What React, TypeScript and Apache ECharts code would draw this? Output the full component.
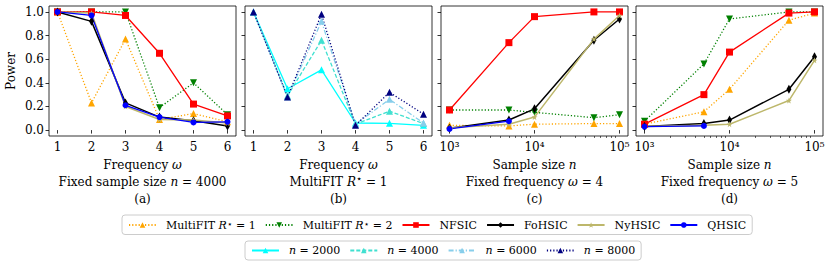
import React, { useEffect, useRef } from 'react';
import * as echarts from 'echarts';

const FONT = '"DejaVu Serif", "Liberation Serif", serif';
const STAR_FONT = '"DejaVu Sans", "Noto Sans", sans-serif';

// ---------- data ----------
const frequencies = [1, 2, 3, 4, 5, 6];
const sampleSizes = [1000, 5000, 10000, 50000, 100000];
const qhsicSampleSizes = [1000, 5000];

const powerTicks = [0, 0.2, 0.4, 0.6, 0.8, 1.0];
const frequencyTicks = [1, 2, 3, 4, 5, 6];
const logMajorTicks = [1000, 10000, 100000];
const logMinorTicks = [2000, 3000, 4000, 5000, 6000, 7000, 8000, 9000, 20000, 30000, 40000, 50000, 60000, 70000, 80000, 90000];

// (a) fixed sample size n = 4000
const multiFit1A = [1.0, 0.23, 0.77, 0.09, 0.14, 0.07];
const multiFit2A = [1.0, 1.0, 1.0, 0.19, 0.40, 0.13];
const nfsicA = [1.0, 1.0, 0.97, 0.65, 0.22, 0.12];
const fohsicA = [1.0, 0.92, 0.23, 0.11, 0.08, 0.035];
const nyhsicA = [1.0, 0.99, 0.20, 0.09, 0.085, 0.06];
const qhsicA = [1.0, 0.97, 0.21, 0.11, 0.065, 0.07];

// (b) MultiFIT R* = 1
const n2000B = [1.0, 0.35, 0.51, 0.06, 0.057, 0.04];
const n4000B = [1.0, 0.29, 0.76, 0.05, 0.16, 0.055];
const n6000B = [1.0, 0.28, 0.92, 0.05, 0.26, 0.06];
const n8000B = [1.0, 0.28, 0.98, 0.04, 0.32, 0.135];

// (c) fixed frequency omega = 4
const multiFit1C = [0.04, 0.035, 0.05, 0.055, 0.055];
const multiFit2C = [0.17, 0.17, 0.15, 0.105, 0.13];
const nfsicC = [0.17, 0.74, 0.96, 1.0, 1.0];
const fohsicC = [0.015, 0.085, 0.18, 0.76, 0.94];
const nyhsicC = [0.02, 0.05, 0.11, 0.77, 0.97];
const qhsicC = [0.01, 0.075];

// (d) fixed frequency omega = 5
const multiFit1D = [0.05, 0.155, 0.345, 0.93, 0.99];
const multiFit2D = [0.075, 0.56, 0.94, 1.0, 1.0];
const nfsicD = [0.05, 0.30, 0.66, 0.99, 1.0];
const fohsicD = [0.03, 0.055, 0.085, 0.345, 0.62];
const nyhsicD = [0.03, 0.04, 0.05, 0.25, 0.59];
const qhsicD = [0.03, 0.035];

// ---------- styles ----------
const STAR = 'path://M0,-10 L2.35,-3.24 L9.51,-3.09 L3.8,1.24 L5.88,8.09 L0,4 L-5.88,8.09 L-3.8,1.24 L-9.51,-3.09 L-2.35,-3.24 Z';

type Style = { color: string; type: any; symbol: string; size: any; rotate?: number; width: number };
const methodStyles: Record<string, Style> = {
  'MultiFIT1': { color: '#FFA500', type: [1.2, 2], symbol: 'triangle', size: 7, width: 1.3 },
  'MultiFIT2': { color: '#008000', type: [1.2, 2], symbol: 'triangle', size: 7, rotate: 180, width: 1.3 },
  'NFSIC': { color: '#FF0000', type: 'solid', symbol: 'rect', size: 7, width: 1.3 },
  'FoHSIC': { color: '#000000', type: 'solid', symbol: 'diamond', size: [5, 9], width: 1.5 },
  'NyHSIC': { color: '#BDB76B', type: 'solid', symbol: STAR, size: 6, width: 1.5 },
  'QHSIC': { color: '#0000FF', type: 'solid', symbol: 'circle', size: 6, width: 1.3 },
  'n2000': { color: '#00FFFF', type: 'solid', symbol: 'triangle', size: 7, width: 1.3 },
  'n4000': { color: '#40E0D0', type: [4, 2], symbol: 'triangle', size: 7, width: 1.3 },
  'n6000': { color: '#87CEEB', type: [5, 2, 1.2, 2], symbol: 'triangle', size: 7, width: 1.3 },
  'n8000': { color: '#000080', type: [1.2, 2], symbol: 'triangle', size: 7, width: 1.3 },
};

const legendText: Record<string, string> = {
  'MultiFIT1': '{g| }{t|MultiFIT }{i|R}{s|⋆}{t| = 1}',
  'MultiFIT2': '{g| }{t|MultiFIT }{i|R}{s|⋆}{t| = 2}',
  'NFSIC': '{g| }{t|NFSIC}',
  'FoHSIC': '{g| }{t|FoHSIC}',
  'NyHSIC': '{g| }{t|NyHSIC}',
  'QHSIC': '{g| }{t|QHSIC}',
  'n2000': '{g| }{i|n}{t| = 2000}',
  'n4000': '{g| }{i|n}{t| = 4000}',
  'n6000': '{g| }{i|n}{t| = 6000}',
  'n8000': '{g| }{i|n}{t| = 8000}',
};

const rich = {
  t: { fontFamily: FONT, fontSize: 11, color: '#000' },
  i: { fontFamily: FONT, fontSize: 11, fontStyle: 'italic', color: '#000' },
  s: { fontFamily: STAR_FONT, fontSize: 9, color: '#000', verticalAlign: 'top', padding: [0, 0, 3, 0] },
  g: { width: 5 },
};

const SUP: Record<number, string> = { 3: '³', 4: '⁴', 5: '⁵' };

const GRID_LEFTS = [49, 245, 441, 636];
const GRID_W = 187;

function makeSeries(name: string, grid: number, xs: number[], ys: number[], logX: boolean) {
  const s = methodStyles[name];
  return {
    type: 'line',
    name,
    xAxisIndex: grid,
    yAxisIndex: grid,
    data: ys.map((v, k) => [logX ? Math.log10(xs[k]) : xs[k], v]),
    symbol: s.symbol,
    symbolSize: s.size,
    symbolRotate: s.rotate || 0,
    showSymbol: true,
    lineStyle: { color: s.color, width: s.width, type: s.type },
    itemStyle: { color: s.color, borderWidth: 0 },
    emphasis: { disabled: true },
    clip: false,
  };
}

export default function App() {
  const ref = useRef<HTMLDivElement>(null);
  useEffect(() => {
    document.body.style.margin = '0';
    const chart = echarts.init(ref.current!, null, { renderer: 'svg' });
    const tickStyle = { color: '#000', width: 0.8 };
    const captions = [
      '{t|Frequency }{i|ω}\n{t|Fixed sample size }{i|n}{t| = 4000}\n{t|(a)}',
      '{t|Frequency }{i|ω}\n{t|MultiFIT }{i|R}{s|⋆}{t| = 1}\n{t|(b)}',
      '{t|Sample size }{i|n}\n{t|Fixed frequency }{i|ω}{t| = 4}\n{t|(c)}',
      '{t|Sample size }{i|n}\n{t|Fixed frequency }{i|ω}{t| = 5}\n{t|(d)}',
    ];
    const captionRich = {
      t: { fontFamily: FONT, fontSize: 12, color: '#000', lineHeight: 17 },
      i: { fontFamily: FONT, fontSize: 12, fontStyle: 'italic', color: '#000', lineHeight: 17 },
      s: { fontFamily: STAR_FONT, fontSize: 10, color: '#000', verticalAlign: 'top', lineHeight: 12 },
    };
    const grids = GRID_LEFTS.map((l) => ({
      left: l, top: 6, width: GRID_W, height: 130,
      show: true, borderColor: '#000', borderWidth: 0.8, backgroundColor: 'transparent',
    }));
    const xAxes: any[] = GRID_LEFTS.map((_, g) => {
      const logX = g >= 2;
      const major = logX ? logMajorTicks.map((v) => Math.log10(v)) : frequencyTicks;
      return {
        type: 'value', gridIndex: g, position: 'bottom',
        min: logX ? 2.9 : 0.75, max: logX ? 5.1 : 6.25,
        axisLine: { show: false }, splitLine: { show: false },
        axisTick: { show: true, length: 3.5, customValues: major, lineStyle: tickStyle },
        axisLabel: {
          show: true, customValues: major, color: '#000', fontFamily: FONT, fontSize: 12, margin: 5,
          formatter: logX ? (v: number) => '10' + SUP[Math.round(v)] : (v: number) => String(v),
        },
        name: captions[g], nameLocation: 'middle', nameGap: 20,
        nameTextStyle: { rich: captionRich, align: 'center' },
      };
    });
    [2, 3].forEach((g) => {
      xAxes.push({
        type: 'value', gridIndex: g, position: 'bottom', offset: 0, min: 2.9, max: 5.1,
        axisLine: { show: false }, splitLine: { show: false },
        axisTick: { show: true, length: 2, customValues: logMinorTicks.map((v) => Math.log10(v)), lineStyle: { color: '#000', width: 0.6 } },
        axisLabel: { show: false },
      });
    });
    const yAxes = GRID_LEFTS.map((_, g) => ({
      type: 'value', gridIndex: g, min: -0.05, max: 1.05,
      axisLine: { show: false }, splitLine: { show: false },
      axisTick: { show: true, length: 3.5, customValues: powerTicks, lineStyle: tickStyle },
      axisLabel: {
        show: g === 0, customValues: powerTicks, color: '#000', fontFamily: FONT, fontSize: 12, margin: 5,
        formatter: (v: number) => v.toFixed(1),
      },
      name: g === 0 ? 'Power' : '', nameLocation: 'middle', nameGap: 32,
      nameTextStyle: { color: '#000', fontFamily: FONT, fontSize: 12 },
    }));

    const series = [
      makeSeries('MultiFIT1', 0, frequencies, multiFit1A, false),
      makeSeries('MultiFIT2', 0, frequencies, multiFit2A, false),
      makeSeries('NFSIC', 0, frequencies, nfsicA, false),
      makeSeries('FoHSIC', 0, frequencies, fohsicA, false),
      makeSeries('NyHSIC', 0, frequencies, nyhsicA, false),
      makeSeries('QHSIC', 0, frequencies, qhsicA, false),
      makeSeries('n2000', 1, frequencies, n2000B, false),
      makeSeries('n4000', 1, frequencies, n4000B, false),
      makeSeries('n6000', 1, frequencies, n6000B, false),
      makeSeries('n8000', 1, frequencies, n8000B, false),
      makeSeries('MultiFIT1', 2, sampleSizes, multiFit1C, true),
      makeSeries('MultiFIT2', 2, sampleSizes, multiFit2C, true),
      makeSeries('NFSIC', 2, sampleSizes, nfsicC, true),
      makeSeries('FoHSIC', 2, sampleSizes, fohsicC, true),
      makeSeries('NyHSIC', 2, sampleSizes, nyhsicC, true),
      makeSeries('QHSIC', 2, qhsicSampleSizes, qhsicC, true),
      makeSeries('MultiFIT1', 3, sampleSizes, multiFit1D, true),
      makeSeries('MultiFIT2', 3, sampleSizes, multiFit2D, true),
      makeSeries('NFSIC', 3, sampleSizes, nfsicD, true),
      makeSeries('FoHSIC', 3, sampleSizes, fohsicD, true),
      makeSeries('NyHSIC', 3, sampleSizes, nyhsicD, true),
      makeSeries('QHSIC', 3, qhsicSampleSizes, qhsicD, true),
    ];

    const legendBase = {
      orient: 'horizontal',
      itemWidth: 27, itemHeight: 7, itemGap: 9,
      borderColor: '#cccccc', borderWidth: 1, borderRadius: 3,
      padding: [4, 6, 4, 6],
      selectedMode: false,
      formatter: (name: string) => legendText[name],
      textStyle: { fontFamily: FONT, fontSize: 11, color: '#000', rich },
    };

    chart.setOption({
      animation: false,
      grid: grids,
      xAxis: xAxes,
      yAxis: yAxes,
      legend: [
        { ...legendBase, left: 122, top: 215, data: ['MultiFIT1', 'MultiFIT2', 'NFSIC', 'FoHSIC', 'NyHSIC', 'QHSIC'] },
        { ...legendBase, left: 245, top: 241, data: ['n2000', 'n4000', 'n6000', 'n8000'] },
      ],
      series,
    });
    return () => chart.dispose();
  }, []);
  return <div ref={ref} style={{ width: 830, height: 268, position: 'absolute', left: 0, top: 0 }} />;
}
